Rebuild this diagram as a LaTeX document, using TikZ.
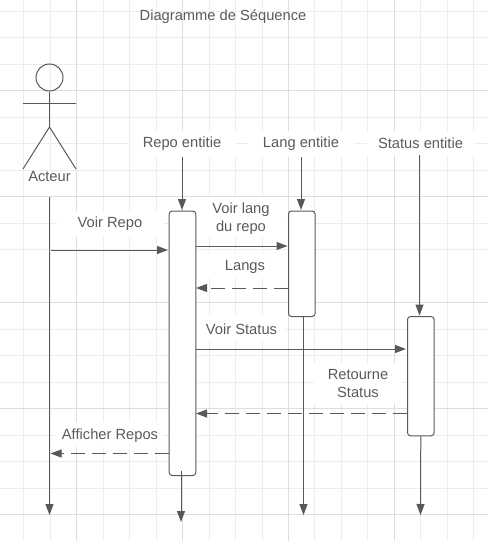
\documentclass[tikz,border=0pt]{standalone}
\usepackage{fontspec}
\setmainfont{Liberation Sans}
\usetikzlibrary{arrows.meta}
\definecolor{ink}{HTML}{595959}
\definecolor{txt}{HTML}{5A5A60}
\definecolor{gmin}{HTML}{EDEDED}
\definecolor{gmaj}{HTML}{DEDEDE}
\tikzset{
  x=1pt,y=-1pt,
  lineb/.style={draw=ink,line width=1pt},
  msg/.style={lineb,-{Triangle[length=11pt,width=8pt]}},
  ret/.style={msg,dash pattern=on 14pt off 7pt},
  act/.style={draw=ink,line width=1pt,fill=white,rounded corners=3pt,minimum width=26.6pt,inner sep=0pt,anchor=north west},
  lbl/.style={text=txt,font=\fontsize{14.7}{18}\selectfont,align=center,inner sep=0pt},
  actorline/.style={draw=ink,line width=1pt},
}
\begin{document}
\begin{tikzpicture}
\useasboundingbox (0,0) rectangle (488,541);
\fill[white] (0,0) rectangle (488,541);
% grid
\foreach \gx in {23.5,50.5,103,129.5,156.5,209.5,235.5,262.5,314.5,341.5,367.5,420.5,447.5,473.5}
  \draw[gmin,line width=1pt] (\gx,0) -- (\gx,541);
\foreach \gy in {11.5,37.5,64.5,117.5,143.5,170,223,249.5,329,355.5,382,435,461,488}
  \draw[gmin,line width=1pt] (0,\gy) -- (488,\gy);
\foreach \gx in {76.5,182.5,288.5,394.5}
  \draw[gmaj,line width=1pt] (\gx,0) -- (\gx,541);
\foreach \gy in {90.5,196.5,302.5,408.5,514.5}
  \draw[gmaj,line width=1pt] (0,\gy) -- (488,\gy);
% white label backgrounds
\fill[white] (24,170.5) rectangle (76,196);
\fill[white] (130,131) rectangle (236,157);
\fill[white] (248,131) rectangle (354,157);
\fill[white] (367,131) rectangle (474,155);
\fill[white] (57,211) rectangle (163,237);
\fill[white] (196,198) rectangle (287,237);
\fill[white] (196,254) rectangle (287,278);
\fill[white] (196,316) rectangle (285,340);
\fill[white] (314,363) rectangle (402,403);
\fill[white] (57,422) rectangle (163,447);
% title
\node[lbl] (title) at (223,16.5) {Diagramme de Séquence};
% actor
\node[circle,draw=ink,line width=1pt,minimum size=27pt,inner sep=0pt] (head) at (49.5,77.5) {};
\coordinate (hip) at (49.5,127);
\coordinate (armL) at (23,103.5);
\coordinate (armR) at (76,103.5);
\coordinate (footL) at (23,169);
\coordinate (footR) at (76,169);
\draw[actorline] (head.south) -- (hip);
\draw[actorline] (armL) -- (armR);
\draw[actorline] (footL) -- (hip) -- (footR);
\node[lbl] (acteur) at (49.5,176.5) {Acteur};
% lifeline headers
\node[lbl] (repoH) at (182,143.5) {Repo entitie};
\node[lbl] (langH) at (301,144) {Lang entitie};
\node[lbl] (statusH) at (420.5,143.5) {Status entitie};
\coordinate (actorTop) at (49.5,197);
\coordinate (actorEnd) at (49.5,515);
\coordinate (repoTop) at (182,157);
\coordinate (langTop) at (301,157);
\coordinate (statusTop) at (419.5,155);
\coordinate (repoEnd) at (181,522);
\coordinate (langEnd) at (303.5,515);
\coordinate (statusEnd) at (420.5,515);
% lifelines
\draw[msg] (actorTop) -- (actorEnd);
\draw[msg] (repoTop) -- (182,210);
\draw[msg] (langTop) -- (301,210);
\draw[msg] (statusTop) -- (419.5,315.5);
% activations
\node[act,minimum height=264.5pt] (repoA) at (168.7,210.5) {};
\node[act,minimum height=105.5pt] (langA) at (288,210.5) {};
\node[act,minimum height=119.3pt] (statusA) at (407,316) {};
% lifelines below activations
\draw[msg] (181,471) -- (repoEnd);
\draw[msg] (303.5,316.5) -- (langEnd);
\draw[msg] (statusA.south) -- (statusEnd);
% messages
\coordinate (m1a) at (51,250);
\draw[msg] (m1a) -- (168,250);
\draw[msg] (195.5,246) -- (287.5,246);
\draw[ret] (288,288) -- (196,288);
\draw[msg] (195.5,349) -- (406,349);
\draw[ret] (407,413.5) -- (196,413.5);
\draw[ret] (169,453.5) -- (50.5,453.5);
% message labels
\node[lbl] (l1) at (110,223.3) {Voir Repo};
\node[lbl] (l2) at (241,218.3) {Voir lang\\du repo};
\node[lbl] (l3) at (245,267) {Langs};
\node[lbl] (l4) at (241.5,329) {Voir Status};
\node[lbl] (l5) at (358,383.5) {Retourne\\Status};
\node[lbl] (l6) at (110,435.5) {Afficher Repos};
\end{tikzpicture}
\end{document}
